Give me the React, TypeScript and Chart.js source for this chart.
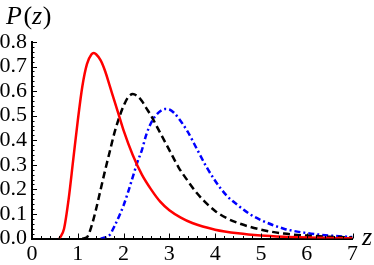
import React, { useEffect, useRef } from "react";
import { Chart, registerables } from "chart.js";

Chart.register(...registerables);

const zRed = [0.6, 0.7, 0.8, 0.9, 1.0, 1.1, 1.2, 1.3, 1.35, 1.4, 1.5, 1.6, 1.7, 1.8, 1.9, 2.0, 2.2, 2.4, 2.6, 2.8, 3.0, 3.25, 3.5, 4.0, 4.5, 5.0, 5.5, 6.0, 6.5, 7.0];
const pRed = [0, 0.04, 0.16, 0.32, 0.48, 0.62, 0.71, 0.75, 0.755, 0.75, 0.725, 0.68, 0.62, 0.56, 0.5, 0.44, 0.34, 0.26, 0.2, 0.15, 0.115, 0.085, 0.063, 0.036, 0.021, 0.012, 0.007, 0.004, 0.002, 0.001];

const zBlack = [1.1, 1.2, 1.3, 1.4, 1.5, 1.6, 1.7, 1.8, 1.9, 2.0, 2.1, 2.2, 2.3, 2.4, 2.5, 2.6, 2.8, 3.0, 3.2, 3.4, 3.6, 3.8, 4.0, 4.25, 4.5, 5.0, 5.5, 6.0, 6.5, 7.0];
const pBlack = [0, 0.005, 0.05, 0.12, 0.2, 0.28, 0.355, 0.43, 0.49, 0.54, 0.575, 0.588, 0.58, 0.56, 0.53, 0.5, 0.43, 0.36, 0.29, 0.235, 0.185, 0.145, 0.112, 0.083, 0.063, 0.036, 0.02, 0.012, 0.007, 0.004];

const zBlue = [1.5, 1.6, 1.7, 1.8, 1.9, 2.0, 2.1, 2.2, 2.3, 2.4, 2.5, 2.6, 2.7, 2.8, 2.9, 3.0, 3.1, 3.2, 3.4, 3.6, 3.8, 4.0, 4.25, 4.5, 4.75, 5.0, 5.5, 6.0, 6.5, 7.0];
const pBlue = [0, 0.004, 0.015, 0.05, 0.09, 0.135, 0.19, 0.25, 0.31, 0.36, 0.425, 0.47, 0.5, 0.518, 0.527, 0.525, 0.512, 0.49, 0.435, 0.365, 0.295, 0.235, 0.175, 0.135, 0.1, 0.075, 0.04, 0.022, 0.012, 0.006];

const xTicks = [0, 1, 2, 3, 4, 5, 6, 7];
const yTicks = [0, 0.1, 0.2, 0.3, 0.4, 0.5, 0.6, 0.7, 0.8];

const SERIF = "'Liberation Serif', 'DejaVu Serif', serif";

const pts = (zs: number[], ps: number[]) => zs.map((z, i) => ({ x: z, y: ps[i] }));

const decorPlugin = {
  id: "decor",
  afterDatasetsDraw(chart: any) {
    const ctx = chart.ctx;
    const xs = chart.scales.x;
    const ys = chart.scales.y;
    const { left, bottom } = chart.chartArea;
    ctx.save();
    ctx.strokeStyle = "#000";
    ctx.lineWidth = 1;
    ctx.beginPath();
    for (let i = 0; i <= 40; i++) {
      const v = i * 0.02;
      const py = Math.round(ys.getPixelForValue(v)) + 0.5;
      const len = i % 5 === 0 ? 5 : 2.5;
      ctx.moveTo(left, py);
      ctx.lineTo(left + len, py);
    }
    for (let i = 0; i <= 35; i++) {
      const v = i * 0.2;
      const px = Math.round(xs.getPixelForValue(v)) + 0.5;
      const len = i % 5 === 0 ? 5 : 2.5;
      ctx.moveTo(px, bottom);
      ctx.lineTo(px, bottom - len);
    }
    ctx.stroke();

    ctx.fillStyle = "#000";
    ctx.textBaseline = "alphabetic";
    ctx.textAlign = "left";
    const it = `italic 26px ${SERIF}`;
    const up = `26px ${SERIF}`;
    let x = 6;
    const by = 24;
    const parts: [string, string][] = [["P", it], ["(", up], ["z", it], [")", up]];
    for (const [t, f] of parts) {
      ctx.font = f;
      ctx.fillText(t, x, by);
      x += ctx.measureText(t).width + (t === "P" ? 1.5 : t === "z" ? 0.5 : 0);
    }
    ctx.font = it;
    ctx.fillText("z", 362, 245);
    ctx.restore();
  },
};

export default function App() {
  const ref = useRef<HTMLCanvasElement | null>(null);
  useEffect(() => {
    document.body.style.margin = "0";
    const canvas = ref.current!;
    const chart = new Chart(canvas, {
      type: "line",
      data: {
        datasets: [
          {
            data: pts(zRed, pRed),
            borderColor: "#ff0000",
            borderWidth: 2.5,
            pointRadius: 0,
            cubicInterpolationMode: "monotone",
            fill: false,
          },
          {
            data: pts(zBlack, pBlack),
            borderColor: "#000000",
            borderWidth: 2.5,
            borderDash: [7, 4],
            pointRadius: 0,
            cubicInterpolationMode: "monotone",
            fill: false,
          },
          {
            data: pts(zBlue, pBlue),
            borderColor: "#0000ff",
            borderWidth: 2.5,
            borderDash: [6, 3, 2, 3],
            pointRadius: 0,
            cubicInterpolationMode: "monotone",
            fill: false,
          },
        ],
      },
      options: {
        responsive: false,
        animation: false,
        parsing: true,
        layout: { padding: { top: 42, right: 21.5, left: 0, bottom: 0 } },
        plugins: {
          legend: { display: false },
          tooltip: { enabled: false },
          title: { display: false },
        },
        scales: {
          x: {
            type: "linear",
            min: 0,
            max: 7,
            afterBuildTicks: (s: any) => {
              s.ticks = xTicks.map((v) => ({ value: v }));
            },
            afterFit: (s: any) => {
              s.height = 26.5;
            },
            grid: { display: false, drawTicks: false },
            border: { display: true, color: "#000", width: 2 },
            ticks: {
              color: "#000",
              font: { family: SERIF, size: 22 },
              padding: 3,
              maxRotation: 0,
              autoSkip: false,
              callback: (v: any) => String(v),
            },
          },
          y: {
            type: "linear",
            min: 0,
            max: 0.8,
            afterBuildTicks: (s: any) => {
              s.ticks = yTicks.map((v) => ({ value: v }));
            },
            afterFit: (s: any) => {
              s.width = 32;
            },
            grid: { display: false, drawTicks: false },
            border: { display: true, color: "#000", width: 2 },
            ticks: {
              color: "#000",
              font: { family: SERIF, size: 22 },
              padding: 5,
              autoSkip: false,
              callback: (v: any) => Number(v).toFixed(1),
            },
          },
        },
      },
      plugins: [decorPlugin],
    });
    return () => chart.destroy();
  }, []);
  return (
    <div style={{ position: "fixed", left: 0, top: 0, width: 374, height: 265 }}>
      <canvas ref={ref} width={374} height={265} style={{ width: 374, height: 265 }} />
    </div>
  );
}
